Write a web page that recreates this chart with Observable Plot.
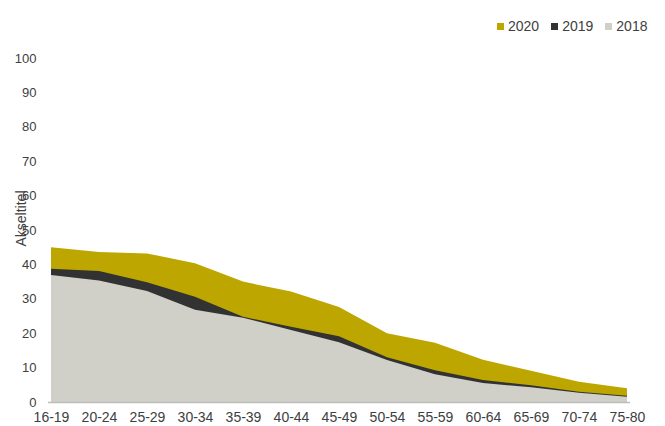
<!DOCTYPE html>
<html>
<head>
<meta charset="utf-8">
<script src="https://cdn.jsdelivr.net/npm/d3@7"></script>
<script src="https://cdn.jsdelivr.net/npm/@observablehq/plot@0.6"></script>
<style>
  html, body { margin: 0; padding: 0; background: #fff; }
  #wrap { position: relative; width: 665px; height: 426px; font-family: "Liberation Sans", Arial, sans-serif; }
  #legend { position: absolute; top: 18px; left: 497px; display: flex; align-items: center; font-size: 14px; color: #404040; }
  #legend span.item { display: inline-flex; align-items: center; margin-right: 12px; }
  #legend span.sw { display: inline-block; width: 7px; height: 7px; margin-right: 4px; }
</style>
</head>
<body>
<div id="wrap">
  <div id="legend"></div>
</div>
<script>
// Age groups along the x axis
const ageGroups = ["16-19", "20-24", "25-29", "30-34", "35-39", "40-44", "45-49", "50-54", "55-59", "60-64", "65-69", "70-74", "75-80"];

// Values per year
const values2020 = [45.0, 43.6, 43.2, 40.3, 35.0, 32.1, 27.6, 20.0, 17.2, 12.3, 9.1, 5.9, 4.0];
const values2019 = [38.7, 38.1, 34.8, 30.6, 24.8, 21.9, 19.1, 13.0, 9.2, 6.4, 4.9, 3.0, 1.8];
const values2018 = [36.9, 35.3, 32.3, 26.8, 24.5, 20.9, 17.4, 12.2, 8.1, 5.5, 4.3, 2.7, 1.5];

const years = ["2020", "2019", "2018"];
const yearColors = ["#bea600", "#323232", "#d0d0c8"];
const yTicks = [0, 10, 20, 30, 40, 50, 60, 70, 80, 90, 100];
const yLabel = "Akseltitel";

const seriesByYear = { "2020": values2020, "2019": values2019, "2018": values2018 };
const rows = years.flatMap(year => ageGroups.map((age, i) => ({ year, age, value: seriesByYear[year][i] })));

const chart = Plot.plot({
  width: 665,
  height: 426,
  marginLeft: 48,
  marginRight: 35,
  marginTop: 58,
  marginBottom: 24,
  style: { fontFamily: "Liberation Sans, Arial, sans-serif", color: "#404040", background: "#fff" },
  x: { type: "point", domain: ageGroups, padding: 0, label: null },
  y: { domain: [0, 100], ticks: yTicks, label: null },
  color: { domain: years, range: yearColors },
  marks: [
    // later years behind, earlier years drawn on top
    ...years.map(year => Plot.areaY(rows.filter(d => d.year === year), { x: "age", y: "value", fill: yearColors[years.indexOf(year)] })),
    Plot.ruleY([0], { stroke: "#bdbdbd", strokeWidth: 1.5 }),
    Plot.axisY({ ticks: yTicks, tickSize: 0, tickPadding: 12, fontSize: 13, label: null }),
    Plot.axisX({ tickSize: 0, tickPadding: 10, fontSize: 14, label: null }),
    Plot.text([yLabel], { frameAnchor: "left", textAnchor: "middle", dx: -27, dy: -12, rotate: -90, fontSize: 14, fill: "#404040" })
  ]
});

document.getElementById("wrap").appendChild(chart);

// Legend in the top right corner
const legend = d3.select("#legend");
years.forEach((year, i) => {
  const item = legend.append("span").attr("class", "item");
  item.append("span").attr("class", "sw").style("background", yearColors[i]);
  item.append("span").text(year);
});
</script>
</body>
</html>
